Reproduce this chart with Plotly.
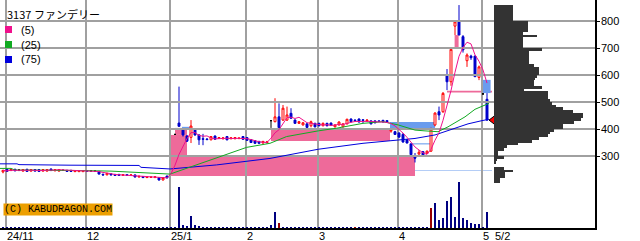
import plotly.graph_objects as go
import pandas as pd

# ---------------- data ----------------
# trading-day index: 0 = 2024-10-31 ... 121 = 2025-05-02
opens = [241, 251, 246, 251, 248, 244, 251, 244, 250, 250, 244, 244, 252, 245, 244, 247, 247, 247, 242, 242,
         242, 246, 245, 244, 243, 232, 230, 234, 232, 232, 228, 231, 228, 230, 222, 224, 220, 221, 220, 220,
         211, 226, 300, 380, 422, 396, 374, 369, 396, 378, 364, 363, 360, 374, 365, 364, 372, 364, 364, 365,
         372, 368, 361, 357, 354, 348, 349, 431, 427, 445, 433, 433, 458, 433, 421, 415, 419, 412, 421, 421,
         412, 421, 422, 408, 415, 408, 419, 437, 433, 437, 434, 430, 430, 430, 430, 432, 431, 392, 390, 385,
         380, 360, 345, 296, 307, 316, 310, 318, 415, 464, 464, 600, 575, 781, 800, 742, 653, 670, 670, 591,
         530, 510]
highs = [248, 252, 253, 252, 251, 251, 252, 251, 251, 251, 251, 251, 253, 251, 251, 249, 248, 248, 247, 247,
         247, 247, 247, 246, 244, 235, 237, 235, 233, 233, 232, 232, 231, 231, 226, 225, 224, 224, 224, 222,
         221, 226, 300, 380, 557, 400, 378, 433, 400, 380, 382, 366, 374, 376, 370, 369, 374, 369, 370, 369,
         374, 370, 363, 359, 356, 356, 356, 431, 514, 495, 489, 483, 477, 436, 429, 426, 421, 431, 423, 423,
         424, 423, 424, 417, 428, 421, 438, 439, 436, 439, 437, 435, 432, 432, 432, 434, 433, 400, 393, 388,
         385, 362, 345, 311, 322, 318, 320, 405, 462, 483, 537, 622, 700, 800, 859, 748, 680, 675, 672, 635,
         532, 533]
lows = [236, 242, 245, 244, 244, 243, 242, 243, 243, 242, 243, 243, 245, 244, 243, 245, 242, 242, 241, 241,
        241, 243, 243, 242, 232, 227, 229, 229, 227, 227, 227, 227, 227, 221, 221, 219, 219, 219, 219, 209,
        210, 217, 300, 380, 408, 372, 352, 348, 375, 341, 340, 358, 358, 360, 363, 361, 358, 362, 362, 362,
        360, 356, 348, 345, 345, 346, 347, 404, 425, 404, 430, 430, 438, 419, 419, 413, 404, 406, 406, 410,
        410, 410, 411, 406, 413, 406, 417, 425, 427, 424, 422, 427, 417, 421, 426, 424, 426, 386, 378, 366,
        349, 347, 302, 276, 305, 297, 308, 315, 410, 433, 460, 544, 560, 748, 748, 683, 630, 656, 592, 581,
        528, 430]
closes = [247, 243, 251, 245, 248, 250, 243, 250, 244, 243, 250, 250, 246, 250, 250, 247, 243, 243, 246, 246,
          246, 244, 245, 244, 233, 230, 236, 230, 228, 228, 231, 228, 230, 222, 225, 220, 223, 222, 223, 211,
          220, 219, 300, 380, 410, 378, 355, 411, 378, 360, 362, 361, 372, 362, 368, 367, 360, 367, 368, 366,
          362, 358, 350, 347, 347, 354, 352, 431, 445, 405, 477, 452, 440, 421, 427, 423, 406, 427, 408, 412,
          421, 412, 413, 415, 426, 419, 436, 427, 431, 426, 432, 433, 419, 423, 428, 426, 427, 396, 380, 370,
          352, 348, 305, 292, 314, 300, 318, 400, 459, 452, 532, 575, 695, 797, 748, 693, 674, 664, 594, 630,
          530, 433]
volumes = [100] * 44 + [4130, 300, 200, 1200, 300, 150, 100] + [100] * 16 + \
          [300, 1570, 470, 100, 80, 100, 100] + [100] * 33 + \
          [1970, 2530, 800, 1030, 2700, 3070, 1070, 4600, 970, 800, 470, 370, 370, 50, 1630]
red_volume_days = [69, 88, 107]

# moving averages 25 / 75 read as polyline vertices (day index, price)
ma25_day = [-0.75, 2, 3, 10, 20, 27, 34, 41.75, 53, 60.9, 66.75, 70.9, 78.8, 83.4, 90, 95, 98.8, 101.75,
            103, 105.5, 108.75, 111.25, 115.5, 118, 119.75, 121.5]
ma25_val = [254, 254, 248, 248, 246, 244, 240, 233, 291, 332, 347, 372, 393, 403, 421, 427, 415, 403,
            396, 393, 390, 408, 445, 473, 485, 495]
ma75_day = [-0.75, 3.5, 4, 16, 16.5, 34, 34.5, 41.75, 53.4, 66.75, 78.8, 90, 98.8, 101.75, 103, 108, 113,
            116.25, 119.75, 121.5]
ma75_val = [271, 271, 268, 268, 266, 265, 258, 252, 267, 291, 325, 347, 359, 362, 365, 378, 403,
            419, 431, 436]

# price gaps (窓): start day, end day, low, high, kind
gap_x0 = [41.75, 41.75, 43, 67, 111, 112.9, 103, 44.75, 96.75, 102.25, 103, 119.9]
gap_x1 = [103, 46, 46, 96.75, 122.25, 113.9, 122.25, 47.25, 108, 106.75, 122.25, 121.9]
gap_lo = [226, 300, 378, 356, 535, 699, 298, 400, 400, 343, 246, 533]
gap_hi = [300, 378, 404, 404, 542, 748, 301, 408, 426, 347, 248, 582]
gap_kind = ['up', 'up', 'up', 'up', 'up', 'up', 'up', 'down', 'down', 'down', 'down', 'down']

# volume-by-price profile: bin low (10 yen bins), bar length
prof_lo = [850, 840, 830, 820, 810, 800, 790, 780, 770, 760, 750, 740, 730, 720, 710, 700, 690, 680, 670,
           660, 650, 640, 630, 620, 610, 600, 590, 580, 570, 560, 550, 540, 530, 520, 510, 500, 490, 480,
           470, 460, 450, 440, 430, 420, 410, 400, 390, 380, 370, 360, 350, 340, 330, 320, 310, 300, 290,
           280, 270, 260, 250, 240, 230, 220, 210, 200]
prof_len = [19, 19, 19, 19, 19, 19, 34, 34, 34, 34, 29, 43, 29, 29, 29, 29, 48, 35, 35,
            35, 35, 35, 40, 45, 45, 45, 43, 41, 40, 40, 48, 30, 54, 54, 54, 56, 58, 62,
            69, 79, 89, 89, 87, 80, 69, 69, 60, 56, 54, 45, 38, 24, 13, 10, 4, 4, 10,
            3, 2, 0, 10, 19, 11, 11, 6, 6]

month_first_day = [1, 21, 42, 61, 79, 99, 120]
month_labels = ['24/11', '12', '25/1', '2', '3', '4', '5']
last_label = '5/2'
price_ticks = [300, 400, 500, 600, 700, 800]
title_text = '3137 ファンデリー'
ma_names = ['(5)', '(25)', '(75)']

# ---------------- layout constants ----------------
W, H = 640, 241
PW, PH = 595, 228
PX_PER_DAY = 4
X_START = -0.75
X_END = X_START + PW / PX_PER_DAY
P_TOP, P_BOT = 877.78, 33.33
VOL_TOP = 22800
PROF_START = 494

C_UP = '#ff0000'
C_DOWN = '#0000cc'
C_MA5 = '#f0108c'
C_MA25 = '#11aa22'
C_MA75 = '#0000dd'
C_PINK = '#ee6a9a'
C_LBLUE = '#6a9cee'
C_GRID = '#a0a0a0'
FONT = 'Liberation Sans'

days = list(range(len(closes)))
ma5 = pd.Series(closes).rolling(5, min_periods=1).mean().tolist()

fig = go.Figure()

# candles
nd = [d for d in days if opens[d] != closes[d]]
dj = [d for d in days if opens[d] == closes[d]]
fig.add_trace(go.Candlestick(
    x=nd, open=[opens[d] for d in nd], high=[highs[d] for d in nd],
    low=[lows[d] for d in nd], close=[closes[d] for d in nd],
    increasing=dict(line=dict(color=C_UP, width=1), fillcolor='#ffffff'),
    decreasing=dict(line=dict(color=C_DOWN, width=1), fillcolor=C_DOWN),
    whiskerwidth=0, showlegend=False, hoverinfo='skip'))
fig.add_trace(go.Candlestick(
    x=dj, open=[opens[d] for d in dj], high=[highs[d] for d in dj],
    low=[lows[d] for d in dj], close=[closes[d] for d in dj],
    increasing=dict(line=dict(color='#000000', width=1), fillcolor='#000000'),
    decreasing=dict(line=dict(color='#000000', width=1), fillcolor='#000000'),
    whiskerwidth=0, showlegend=False, hoverinfo='skip'))

# horizontal price grid at the price ticks
gx, gy = [], []
for p in price_ticks:
    gx += [X_START, X_END, None]
    gy += [p, p, None]
fig.add_trace(go.Scatter(x=gx, y=gy, mode='lines', line=dict(color=C_GRID, width=2),
                         hoverinfo='skip', showlegend=False))

# moving averages
fig.add_trace(go.Scatter(x=ma75_day, y=ma75_val, mode='lines', line=dict(color=C_MA75, width=1),
                         hoverinfo='skip', showlegend=False))
fig.add_trace(go.Scatter(x=ma25_day, y=ma25_val, mode='lines', line=dict(color=C_MA25, width=1),
                         hoverinfo='skip', showlegend=False))
fig.add_trace(go.Scatter(x=days, y=ma5, mode='lines', line=dict(color=C_MA5, width=1),
                         hoverinfo='skip', showlegend=False))

# current price marker
fig.add_trace(go.Scatter(x=[days[-1] + 1.5], y=[closes[-1]], mode='markers',
                         marker=dict(symbol='triangle-left', size=8, color='#ff0000',
                                     line=dict(color='#000000', width=1)),
                         hoverinfo='skip', showlegend=False))

# volume bars (own overlaid axis)
vol_colors = ['#990000' if d in red_volume_days else '#000080' for d in days]
fig.add_trace(go.Bar(x=days, y=volumes, width=0.3, marker=dict(color=vol_colors, line=dict(width=0)),
                     yaxis='y3', hoverinfo='skip', showlegend=False))

# volume profile (own axes, same price scale)
fig.add_trace(go.Bar(x=prof_len, y=[p + 5 for p in prof_lo], orientation='h', width=10,
                     marker=dict(color='#333333', line=dict(width=0)),
                     xaxis='x2', yaxis='y2', hoverinfo='skip', showlegend=False))

# gap rectangles
for x0, x1, lo, hi, k in zip(gap_x0, gap_x1, gap_lo, gap_hi, gap_kind):
    fig.add_shape(type='rect', xref='x', yref='y', x0=x0, x1=x1, y0=lo, y1=hi,
                  fillcolor=C_PINK if k == 'up' else C_LBLUE, line=dict(width=0), layer='below')

# legend / title / watermark
fig.add_annotation(x=5 / PW, y=1 - 14 / PH, xref='paper', yref='paper', xanchor='left', yanchor='middle',
                   text=title_text, showarrow=False,
                   font=dict(family='Noto Sans CJK JP', size=11, color='#000000'))
for k, (name, col) in enumerate(zip(ma_names, [C_MA5, C_MA25, C_MA75])):
    yc = 29.5 + 15 * k
    fig.add_shape(type='rect', xref='paper', yref='paper', x0=5 / PW, x1=12 / PW,
                  y0=1 - (yc + 3.5) / PH, y1=1 - (yc - 3.5) / PH, fillcolor=col, line=dict(width=0))
    fig.add_annotation(x=19 / PW, y=1 - yc / PH, xref='paper', yref='paper', xanchor='left',
                       yanchor='middle', text=name, showarrow=False,
                       font=dict(family=FONT, size=11, color='#000000'))
fig.add_annotation(x=3 / PW, y=1 - 209 / PH, xref='paper', yref='paper', xanchor='left', yanchor='middle',
                   text='(C) KABUDRAGON.COM', showarrow=False, bgcolor='#ec9f00', borderpad=0,
                   font=dict(family='Liberation Mono', size=10, color='#000000'))

grid_pos = [d - 0.25 for d in month_first_day]
fig.update_layout(
    width=W, height=H, margin=dict(l=0, r=W - PW, t=0, b=H - PH, autoexpand=False),
    paper_bgcolor='#ffffff', plot_bgcolor='rgba(0,0,0,0)',
    showlegend=False, bargap=0,
    xaxis=dict(range=[X_START, X_END], rangeslider=dict(visible=False),
               tickmode='array', tickvals=grid_pos + [days[-1] + 1.75], ticktext=month_labels + [last_label],
               ticklabelposition='outside right', tickangle=0, ticks='', showgrid=False,
               ticklabelstandoff=-3,
               tickfont=dict(family=FONT, size=11, color='#000000'),
               showline=True, linecolor='#000000', linewidth=2, zeroline=False,
               minor=dict(tickmode='array', tickvals=grid_pos, showgrid=True, gridcolor=C_GRID,
                          gridwidth=2, ticks='')),
    xaxis2=dict(domain=[PROF_START / PW, 1], range=[0, PW - PROF_START], anchor='y2', visible=False),
    yaxis=dict(range=[P_BOT, P_TOP], side='right', tickmode='array', tickvals=price_ticks,
               showgrid=True, gridcolor=C_GRID, gridwidth=2, zeroline=False,
               ticks='outside', ticklen=3, tickcolor='#000000', ticklabelstandoff=-1,
               tickfont=dict(family=FONT, size=11, color='#000000'),
               showline=True, linecolor='#000000', linewidth=1.5,
               minor=dict(tickmode='array', tickvals=[p + 0.5 for p in price_ticks], showgrid=True,
                          gridcolor=C_GRID, gridwidth=2, ticks='')),
    yaxis2=dict(range=[P_BOT, P_TOP], anchor='x2', visible=False),
    yaxis3=dict(range=[0, VOL_TOP], overlaying='y', visible=False),
)

fig.write_html('out.html')
